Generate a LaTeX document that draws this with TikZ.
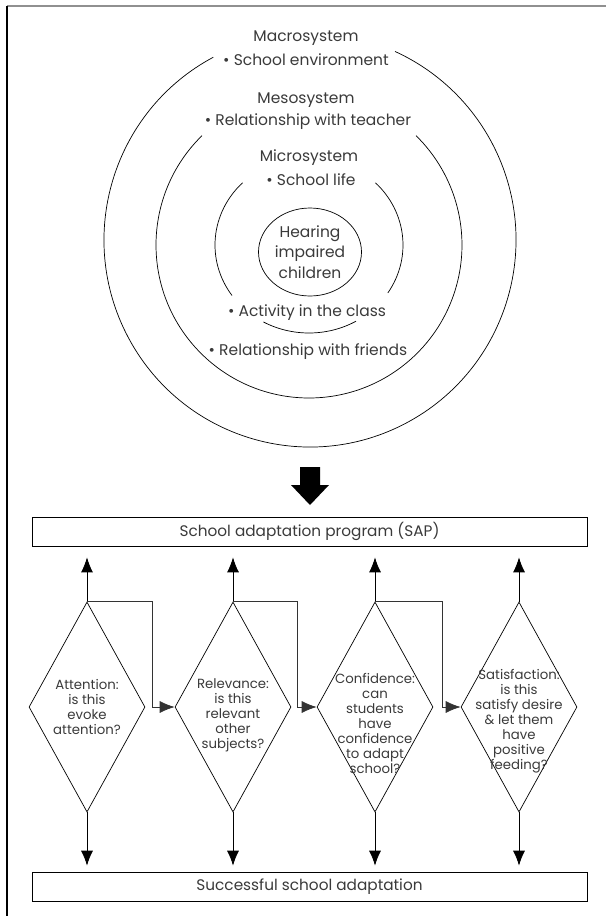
\documentclass[tikz,border=0pt]{standalone}
\usepackage{fontspec}
\setmainfont{Poppins}
\usepackage{tikz}
\usetikzlibrary{arrows.meta,shapes.geometric,positioning,calc}
\definecolor{schrift}{HTML}{3A3A3A}
\definecolor{rahmen}{HTML}{909090}

\tikzset{
  lbl/.style={text=schrift,inner sep=0pt,font=\fontsize{15.5}{18}\selectfont},
  frage/.style={diamond,draw,minimum width=116,minimum height=210,inner sep=0pt},
  fragetext/.style={text=schrift,inner sep=0pt,align=center,font=\fontsize{13.3}{15}\selectfont},
  kasten/.style={draw,minimum width=555,minimum height=29,inner sep=0pt,text=schrift,font=\fontsize{15.3}{18}\selectfont},
  pfeil/.style={->,line width=0.8pt},
  weiter/.style={->,line width=0.7pt,draw=black!80}
}

\begin{document}
\begin{tikzpicture}[x=1pt,y=-1pt,>={Latex[length=15pt,width=12pt]},line width=0.7pt]
\useasboundingbox (0,0) rectangle (606,916);
%Rahmen (nur oben und links sichtbar)
\draw[rahmen,line width=2pt] (7,6) -- (606,6);
\draw[line width=1.2pt] (7,6) -- (7,916);

%Ringe
\coordinate (aussen) at (310,240);
\coordinate (mitte) at (309,245);
\coordinate (innen) at (309,245);
\draw (aussen) ++(-118:206 and 207) arc[start angle=-118,end angle=-425.6,x radius=206,y radius=207];
\draw (mitte) ++(-134.4:153) arc[start angle=-134.4,end angle=-405.6,radius=153];
\draw (innen) ++(-45:94 and 88) arc[start angle=-45,end angle=33,x radius=94,y radius=88];
\draw (innen) ++(-135:94 and 88) arc[start angle=-135,end angle=-215,x radius=94,y radius=88];
\draw (innen) ++(60:94 and 88) arc[start angle=60,end angle=119,x radius=94,y radius=88];
\node[ellipse,draw,minimum width=103,minimum height=88,inner sep=0pt] (kind) at (310,252) {};

\node[lbl] (makro) at (306,38) {Macrosystem};
\node[lbl] (makroa) at (306,60) {\textbullet{} School environment};
\node[lbl] (meso) at (306,100) {Mesosystem};
\node[lbl] (mesoa) at (308,122) {\textbullet{} Relationship with teacher};
\node[lbl] (mikro) at (309,158) {Microsystem};
\node[lbl] (mikroa) at (311,180) {\textbullet{} School life};
\node[lbl,align=center,font=\fontsize{15.5}{20.5}\selectfont] (kindtext) at (kind) {Hearing\\impaired\\children};
\node[lbl] (klasse) at (307,313) {\textbullet{} Activity in the class};
\node[lbl] (freunde) at (308,352) {\textbullet{} Relationship with friends};

%dicker Pfeil
\fill (300,467) -- (320,467) -- (320,485) -- (329,485) -- (310,505) -- (291,485) -- (300,485) -- cycle;

\node[kasten] (sap) at (309.5,531.5) {School adaptation program (SAP)};
\node[kasten] (erfolg) at (309.5,886.5) {Successful school adaptation};

\foreach \i/\cx/\ty/\txt in {1/87/707/{Attention:\\is this\\evoke\\attention?},
                            2/233/715/{Relevance:\\is this\\relevant\\other\\subjects?},
                            3/375/723/{Confidence:\\can\\students\\have\\confidence\\to adapt\\school?},
                            4/519/721/{Satisfaction:\\is this\\satisfy desire\\\& let them\\have\\positive\\feeding?}}{
  \node[frage] (d\i) at (\cx,707) {};
  \node[fragetext] (t\i) at (\cx,\ty) {\txt};
  \draw[pfeil,shorten >=11pt] (d\i.north) -- (d\i.north |- sap.south);
  \draw[pfeil,shorten >=6pt] (d\i.south) -- (d\i.south |- erfolg.north);
}
\draw[weiter] (d1.north) -| ($(d1.east)+(7,0)$) -- (d2.west);
\draw[weiter] (d2.north) -| ($(d2.east)+(6,0)$) -- (d3.west);
\draw[weiter] (d3.north) -| ($(d3.east)+(9,0)$) -- (d4.west);
\end{tikzpicture}
\end{document}
